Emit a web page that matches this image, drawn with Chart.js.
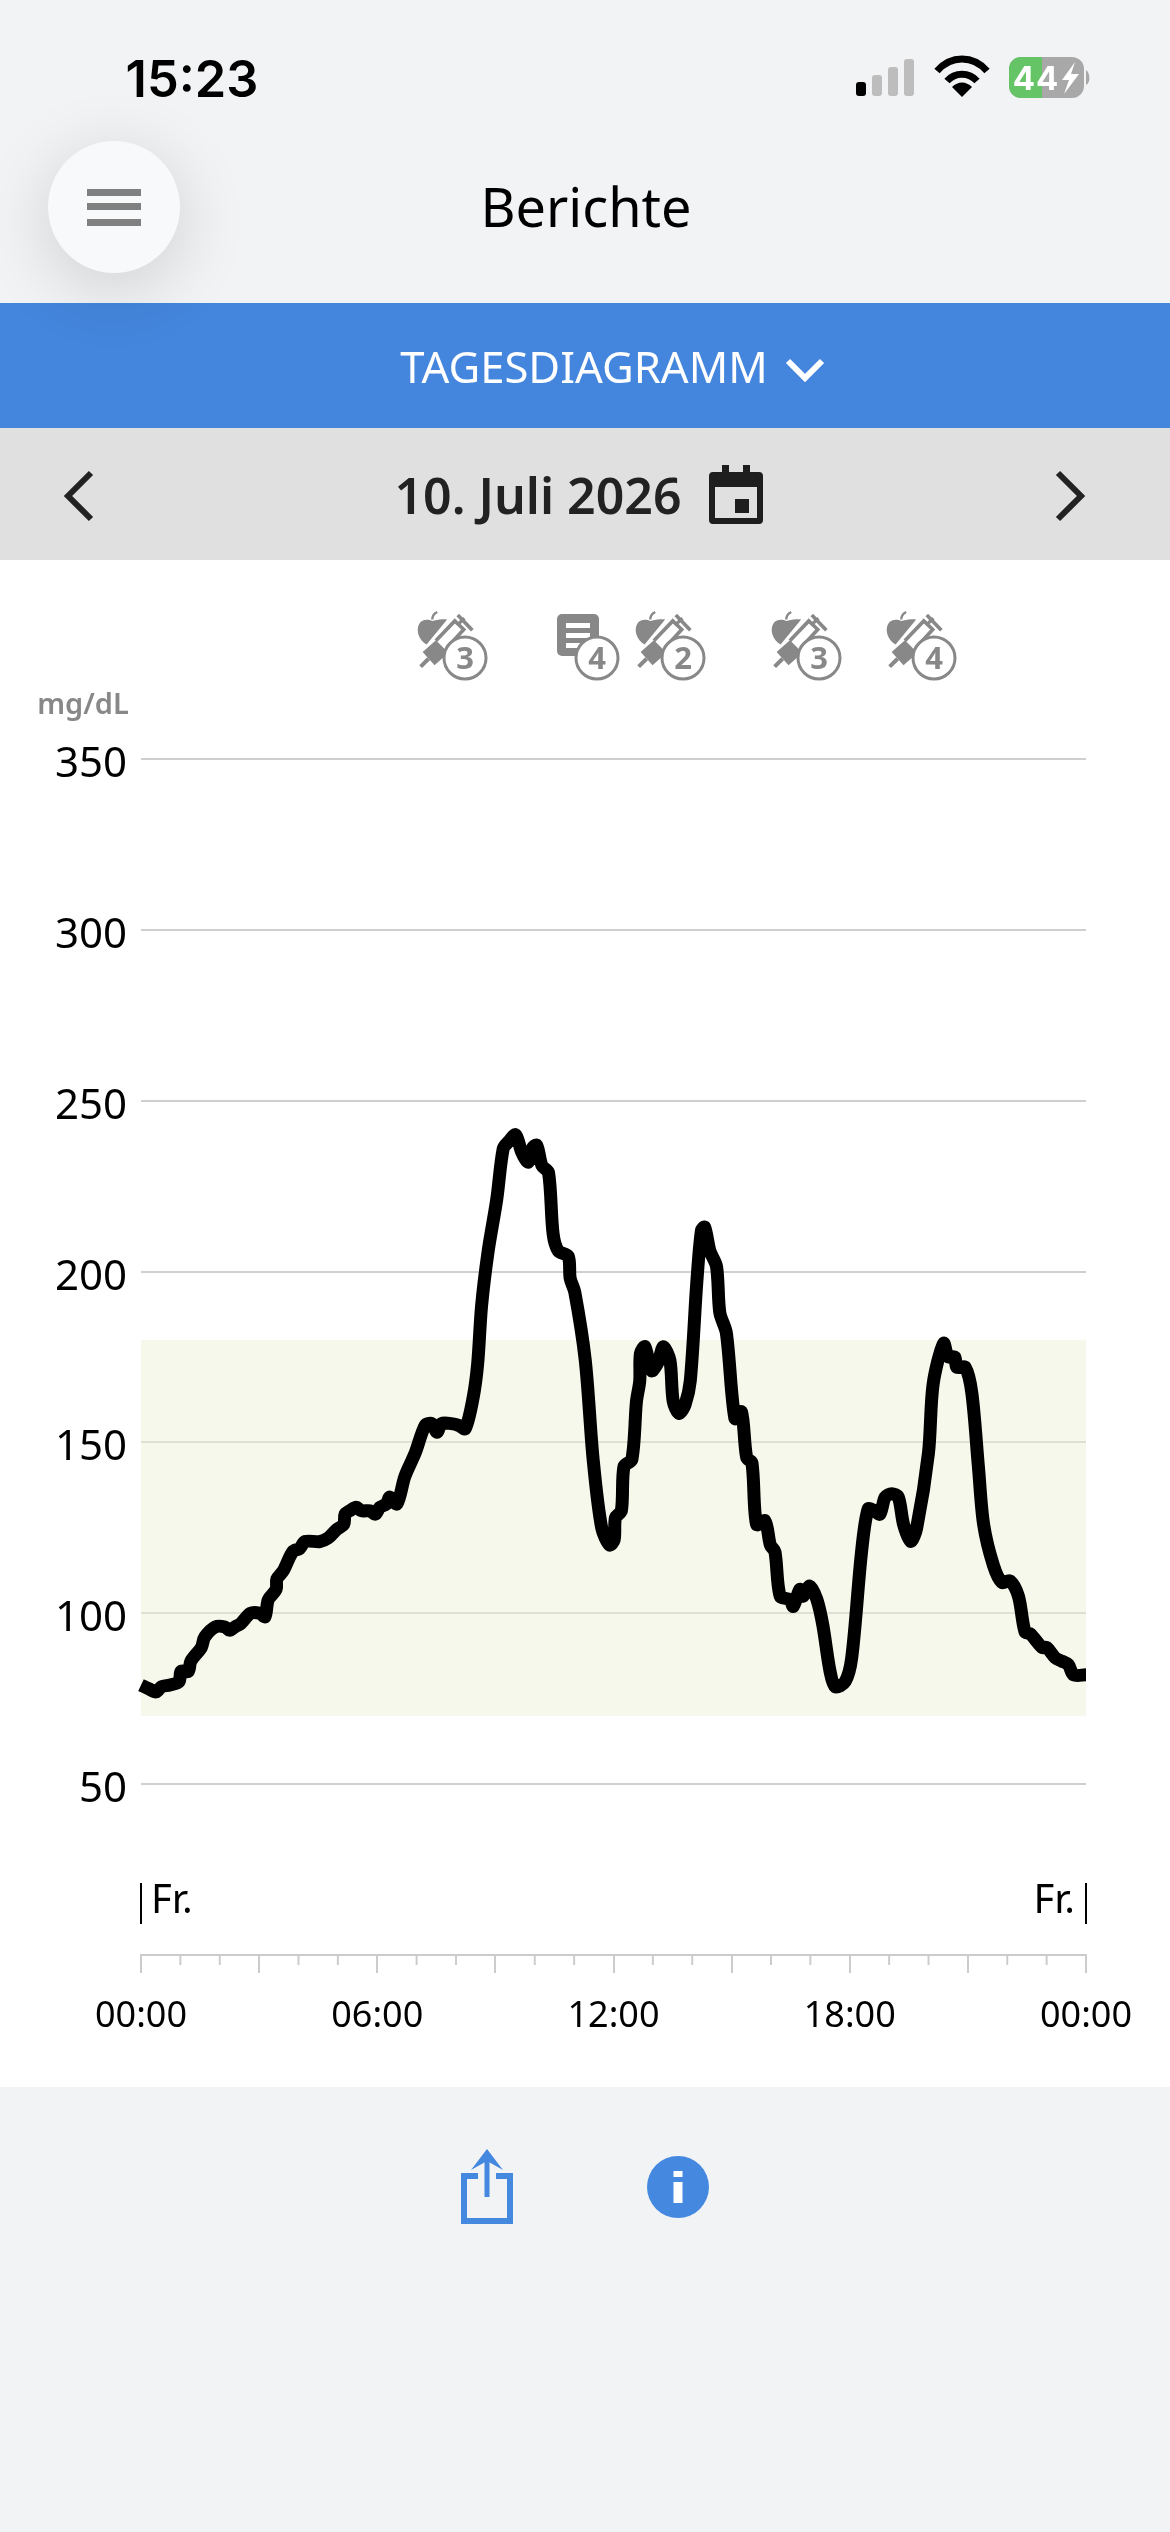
<!DOCTYPE html>
<html lang="de">
<head>
<meta charset="utf-8">
<title>Berichte</title>
<script src="https://cdn.jsdelivr.net/npm/chart.js@4"></script>
<style>
  html, body { margin: 0; padding: 0; }
  body { width: 1170px; height: 2532px; background: #f1f3f5; position: relative; overflow: hidden; font-family: "Noto Sans", sans-serif; }
  .abs { position: absolute; }
  .txt { position: absolute; white-space: nowrap; transform: translate(-50%, -50%); }
  svg { position: absolute; left: 0; top: 0; }
  #chart { position: absolute; left: 0; top: 560px; }
</style>
</head>
<body>
<div class="abs" style="left:0;top:303px;width:1170px;height:125px;background:#4486dd"></div>
<div class="abs" style="left:0;top:428px;width:1170px;height:132px;background:#e0e0e0"></div>
<div class="abs" style="left:0;top:560px;width:1170px;height:1527px;background:#fff"></div>
<canvas id="chart" width="1170" height="1527"></canvas>

<div class="abs" style="left:48px;top:141px;width:132px;height:132px;border-radius:50%;background:#f8f9fb;box-shadow:0 14px 70px rgba(0,0,0,.15)"></div>

<svg width="1170" height="2532" viewBox="0 0 1170 2532">
  <defs>
    <symbol id="bolus" viewBox="50 62 170 175" overflow="visible">
      <path d="M140 88C120 84 106 90 95 92C84 87 64 85 55 102C45 122 55 150 78 163Z" fill="#888"/>
      <path d="M95 88C95 78 100 70 110 65" stroke="#888" stroke-width="7" fill="none"/>
      <path d="M66 186L106 150L144 188L102 226Z" fill="#888"/>
      <path d="M60 230L84 206" stroke="#888" stroke-width="12" fill="none"/>
      <path d="M106 152L163 92L190 118L138 174" stroke="#888" stroke-width="11" fill="none"/>
      <path d="M172 74L216 120" stroke="#888" stroke-width="11" fill="none"/>
      <path d="M175 100L192 84" stroke="#888" stroke-width="10" fill="none"/>
    </symbol>
    <symbol id="note" viewBox="0 0 42 42">
      <rect width="42" height="42" rx="5" fill="#888"/>
      <rect x="9" y="9" width="24" height="5" fill="#fff"/>
      <rect x="9" y="19" width="24" height="5" fill="#fff"/>
      <rect x="9" y="29" width="24" height="5" fill="#fff"/>
    </symbol>
  </defs>

  <!-- status bar -->
  <rect x="856" y="82" width="10" height="14" rx="3" fill="#000"/>
  <rect x="872" y="75" width="10" height="21" rx="3" fill="#bdbdbd"/>
  <rect x="888" y="67" width="10" height="29" rx="3" fill="#bdbdbd"/>
  <rect x="904" y="59" width="10" height="37" rx="3" fill="#bdbdbd"/>
  <path d="M937 71C951 55 973 55 987 71" stroke="#000" stroke-width="7" fill="none"/>
  <path d="M947 81C955 72 969 72 977 81" stroke="#000" stroke-width="7" fill="none"/>
  <path d="M952 87C958 81 966 81 972 87L962 97Z" fill="#000"/>
  <rect x="1009" y="57" width="75" height="41" rx="12" fill="#a8a8a8"/>
  <path d="M1021 57H1042V98H1021A12 12 0 0 1 1009 86V69A12 12 0 0 1 1021 57Z" fill="#65c466"/>
  <path d="M1086 70C1090 72 1091 83 1086 85Z" fill="#a8a8a8"/>
  <text x="1036" y="90" font-family="Inter" font-weight="700" font-size="33" fill="#fff" text-anchor="middle" letter-spacing="1">44</text>
  <path d="M1075 62L1062 80H1069L1064 94L1079 74H1071Z" fill="#fff"/>

  <!-- menu -->
  <rect x="87" y="189" width="54" height="7" fill="#808080"/>
  <rect x="87" y="203" width="54" height="7" fill="#808080"/>
  <rect x="87" y="219" width="54" height="7" fill="#808080"/>

  <!-- report selector and date bar -->
  <path d="M788 361L805 378L822 361" stroke="#fff" stroke-width="6" fill="none"/>
  <path d="M91 473L68 496L91 519" stroke="#222" stroke-width="6" fill="none"/>
  <path d="M1058 473L1081 496L1058 519" stroke="#222" stroke-width="6" fill="none"/>
  <path d="M709 476Q709 472 713 472H722V465H729V472H743V465H750V472H759Q763 472 763 476V520Q763 524 759 524H713Q709 524 709 520Z" fill="#1e1e1e"/>
  <rect x="715" y="487" width="42" height="31" fill="#e0e0e0"/>
  <rect x="735" y="499" width="14" height="14" fill="#1e1e1e"/>

  <!-- event icons -->
  <use href="#bolus" x="417" y="611" width="57" height="58"/>
  <use href="#note" x="557" y="614" width="42" height="42"/>
  <use href="#bolus" x="635" y="611" width="57" height="58"/>
  <use href="#bolus" x="771" y="611" width="57" height="58"/>
  <use href="#bolus" x="886" y="611" width="57" height="58"/>
  <g fill="#fff" stroke="#888" stroke-width="3">
    <circle cx="465" cy="658" r="21"/>
    <circle cx="597" cy="658" r="21"/>
    <circle cx="683" cy="658" r="21"/>
    <circle cx="819" cy="658" r="21"/>
    <circle cx="934" cy="658" r="21"/>
  </g>
  <g font-family="Noto Sans" font-weight="700" font-size="31" fill="#888" text-anchor="middle">
    <text x="465" y="669">3</text>
    <text x="597" y="669">4</text>
    <text x="683" y="669">2</text>
    <text x="819" y="669">3</text>
    <text x="934" y="669">4</text>
  </g>

  <!-- share and info -->
  <path d="M478 2176H464V2221H510V2176H496" stroke="#4488e0" stroke-width="6" fill="none"/>
  <path d="M487 2197V2155" stroke="#4488e0" stroke-width="5" fill="none"/>
  <path d="M487 2149L503 2170L487 2161L471 2170Z" fill="#4488e0"/>
  <circle cx="678" cy="2187" r="31" fill="#4488e0"/>
  <rect x="673.5" y="2182" width="9" height="21" fill="#fff"/>
  <rect x="673.5" y="2171" width="9" height="6" fill="#fff"/>
</svg>

<div class="txt" style="left:192px;top:78px;font:600 50.5px Inter;color:#000">15:23</div>
<div class="txt" style="left:586px;top:206px;font:400 54px 'Noto Sans';color:#000">Berichte</div>
<div class="txt" style="left:584px;top:366px;font:400 43.6px 'Noto Sans';color:#fff">TAGESDIAGRAMM</div>
<div class="txt" style="left:538px;top:495px;font:600 50px 'Noto Sans';color:#222">10. Juli 2026</div>
<div class="txt" style="left:83px;top:702px;font:600 29px 'Noto Sans';color:#888">mg/dL</div>

<script>
// minutes since midnight and glucose readings
var minutes = [0, 11, 23, 31, 44, 58, 61, 72, 76, 92, 97, 113, 128, 135, 143, 152, 167, 181, 189, 194,
  206, 207, 217, 231, 242, 250, 273, 285, 298, 309, 311, 318, 328, 336, 349, 357, 364, 374, 379, 390,
  402, 418, 433, 443, 451, 458, 473, 484, 494, 506, 513, 519, 529, 542, 552, 560, 571, 580, 590, 596,
  603, 611, 621, 628, 636, 651, 654, 661, 677, 689, 702, 714, 721, 723, 732, 736, 748, 755, 760, 761,
  768, 778, 788, 796, 806, 811, 820, 829, 837, 847, 854, 859, 867, 877, 882, 892, 905, 915, 923, 931,
  938, 951, 959, 966, 974, 989, 994, 1004, 1009, 1019, 1030, 1039, 1050, 1058, 1073, 1083, 1098, 1108, 1118, 1126,
  1134, 1144, 1154, 1162, 1173, 1182, 1200, 1207, 1223, 1230, 1240, 1243, 1256, 1266, 1276, 1284, 1299, 1312, 1324, 1337,
  1347, 1355, 1373, 1380, 1393, 1403, 1413, 1421, 1440];
var glucose = [79, 78, 77, 78.5, 79, 80, 83, 83, 86, 90, 93, 96, 96, 95, 96, 97, 100, 100, 99, 104,
  107, 110, 112.5, 118, 119, 121, 121, 122, 124.5, 126, 129, 130, 131, 130, 130, 129, 131, 132, 134, 132,
  140, 147, 155, 155.5, 153, 155.5, 155.5, 155, 154, 163, 173, 190, 206, 221, 236, 238, 240, 235, 232, 236,
  237, 231, 229, 211, 206, 204.5, 198, 194, 174, 145, 125, 120, 121.5, 128, 130, 143, 145, 162, 168, 176,
  178, 171, 173.5, 178, 174, 162, 158.5, 161, 168, 197, 212, 213, 206, 201.5, 188, 182, 157, 159, 145.5, 144,
  126, 127, 120, 118, 105, 104, 102, 107, 105, 108, 104, 96.5, 83, 78.5, 80, 87, 118, 130.5, 130, 129,
  134, 135, 134, 126, 121, 125, 147, 167, 179, 175, 175, 172, 172, 164.5, 143, 126, 114, 109, 109.5, 105,
  94.6, 94, 90, 90, 87, 86, 85, 82, 82];

var rangeLow = 70;
var rangeHigh = 180;
var dayLabel = 'Fr.';
var xTickLabels = ['00:00', '06:00', '12:00', '18:00', '00:00'];
var hourTicks = [60, 120, 240, 300, 420, 480, 600, 660, 780, 840, 960, 1020, 1140, 1200, 1320, 1380];

var points = [];
for (var i = 0; i < minutes.length; i++) {
  points.push({x: minutes[i], y: glucose[i]});
}

// target range sits over the grid, so the grid shows through a bit paler
var rangeBand = {
  id: 'rangeBand',
  beforeDatasetsDraw: function(chart) {
    var a = chart.chartArea, y = chart.scales.y, c = chart.ctx;
    c.save();
    c.fillStyle = 'rgba(235,241,216,0.5)';
    c.fillRect(a.left, y.getPixelForValue(rangeHigh), a.right - a.left,
      y.getPixelForValue(rangeLow) - y.getPixelForValue(rangeHigh));
    c.restore();
  }
};

// Chart.js has one tick length per axis, the short hour ticks go here
var axisExtras = {
  id: 'axisExtras',
  afterDraw: function(chart) {
    var x = chart.scales.x, c = chart.ctx, bottom = chart.chartArea.bottom;
    c.save();
    c.strokeStyle = '#cccccc';
    c.lineWidth = 2;
    for (var i = 0; i < hourTicks.length; i++) {
      var px = x.getPixelForValue(hourTicks[i]);
      c.beginPath();
      c.moveTo(px, bottom);
      c.lineTo(px, bottom + 10);
      c.stroke();
    }
    // day markers above the axis
    var left = x.getPixelForValue(0), right = x.getPixelForValue(1440);
    c.strokeStyle = '#000';
    c.beginPath();
    c.moveTo(left, bottom - 72);
    c.lineTo(left, bottom - 31);
    c.moveTo(right, bottom - 72);
    c.lineTo(right, bottom - 31);
    c.stroke();
    c.fillStyle = '#000';
    c.font = '40px "Noto Sans"';
    c.textBaseline = 'middle';
    c.textAlign = 'left';
    c.fillText(dayLabel, left + 10, bottom - 53);
    c.textAlign = 'right';
    c.fillText(dayLabel, right - 11, bottom - 53);
    c.restore();
  }
};

new Chart(document.getElementById('chart'), {
  type: 'line',
  data: {
    datasets: [{
      data: points,
      borderColor: '#000',
      borderWidth: 13,
      borderJoinStyle: 'round',
      pointRadius: 0,
      tension: 0.3,
      clip: false
    }]
  },
  options: {
    responsive: false,
    animation: false,
    devicePixelRatio: 1,
    layout: {padding: {top: 199, right: 84, left: 0, bottom: 0}},
    plugins: {legend: {display: false}, tooltip: {enabled: false}},
    scales: {
      x: {
        type: 'linear',
        min: 0,
        max: 1440,
        afterFit: function(s) { s.height = 132; },
        border: {color: '#cccccc', width: 2},
        grid: {drawOnChartArea: false, color: '#cccccc', lineWidth: 2, tickLength: 18},
        ticks: {
          stepSize: 180,
          autoSkip: false,
          maxRotation: 0,
          padding: 22,
          color: '#000',
          font: {family: 'Noto Sans', size: 36},
          callback: function(v) {
            return v % 360 === 0 ? xTickLabels[v / 360] : '';
          }
        }
      },
      y: {
        min: 0,
        max: 350,
        afterFit: function(s) { s.width = 141; },
        border: {display: false},
        grid: {color: '#cfcfcf', lineWidth: 2, drawTicks: false},
        ticks: {
          stepSize: 50,
          padding: 14,
          color: '#000',
          // the empty first line pushes the numbers down a few px off the grid line
          font: {family: 'Noto Sans', size: 42, lineHeight: '12px'},
          callback: function(v) { return v === 0 ? '' : ['', String(v)]; }
        }
      }
    }
  },
  plugins: [rangeBand, axisExtras]
});
</script>
</body>
</html>
